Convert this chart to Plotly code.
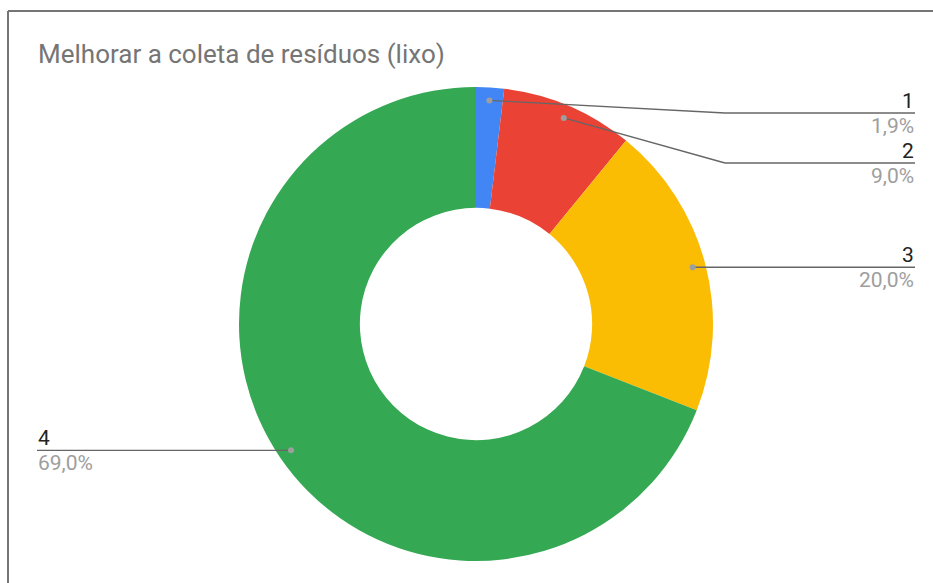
import math
import plotly.graph_objects as go

# Survey answers for "Melhorar a coleta de resíduos (lixo)"
categories = ["1", "2", "3", "4"]
shares = [1.9, 9.0, 20.0, 69.0]
colors = ["#4285F4", "#EA4335", "#FBBC04", "#34A853"]
title_text = "Melhorar a coleta de resíduos (lixo)"

W, H = 933, 583
CX, CY, R = 476, 324, 237          # donut centre / outer radius in pixels
HOLE = 0.49
DOT_R = 0.945 * R                  # where the leader lines start

fig = go.Figure()

fig.add_trace(go.Pie(
    labels=categories,
    values=shares,
    sort=False,
    direction="clockwise",
    rotation=0,
    hole=HOLE,
    marker=dict(colors=colors, line=dict(width=0)),
    textinfo="none",
    hoverinfo="label+value",
    showlegend=False,
    domain=dict(x=[(CX - R) / W, (CX + R) / W],
                y=[(H - (CY + R)) / H, (H - (CY - R)) / H]),
))

# Pixel-space overlay for leader lines and labels
fig.update_layout(
    xaxis=dict(range=[0, W], visible=False, fixedrange=True),
    yaxis=dict(range=[H, 0], visible=False, fixedrange=True),
)

total = sum(shares)
cum = 0.0
right_x, left_x = 915, 37
right_prev = None
shapes = []
annotations = []
LABEL_FONT = "Roboto, Arial"
LABEL_SIZE = 21
for name, v in zip(categories, shares):
    mid = (cum + v / 2) / total * 2 * math.pi
    cum += v
    dx, dy = math.sin(mid), -math.cos(mid)
    px, py = CX + DOT_R * dx, CY + DOT_R * dy
    pct = f"{v:.1f}".replace(".", ",") + "%"
    if dx >= 0:
        ly = max(py, 113.0)
        if right_prev is not None:
            ly = max(ly, right_prev + 50)
        right_prev = ly
        bend_x = 725 if abs(ly - py) > 1 else px
        shapes.append(dict(type="line", xref="x", yref="y", x0=px, y0=py, x1=bend_x, y1=ly,
                           line=dict(color="#666666", width=1.3)))
        shapes.append(dict(type="line", xref="x", yref="y", x0=bend_x, y1=ly, x1=right_x, y0=ly,
                           line=dict(color="#666666", width=1.3)))
        ex, anchor = right_x, "right"
    else:
        ly = py
        shapes.append(dict(type="line", xref="x", yref="y", x0=px, y0=py, x1=left_x, y1=ly,
                           line=dict(color="#666666", width=1.3)))
        ex, anchor = left_x, "left"
    shapes.append(dict(type="circle", xref="x", yref="y", x0=px - 3, x1=px + 3, y0=py - 3, y1=py + 3,
                       fillcolor="#9e9e9e", line=dict(width=0), layer="above"))
    annotations.append(dict(x=ex, y=ly + 1, xref="x", yref="y", text=name, showarrow=False,
                            xanchor=anchor, yanchor="bottom", borderpad=0,
                            font=dict(family=LABEL_FONT, size=LABEL_SIZE, color="#222222")))
    annotations.append(dict(x=ex, y=ly, xref="x", yref="y", text=pct, showarrow=False,
                            xanchor=anchor, yanchor="top", borderpad=0,
                            font=dict(family=LABEL_FONT, size=LABEL_SIZE, color="#9e9e9e")))

# Chart frame (top and left edges)
shapes.append(dict(type="line", xref="x", yref="y", x0=8, y0=11, x1=W, y1=11,
                   line=dict(color="#757575", width=2)))
shapes.append(dict(type="line", xref="x", yref="y", x0=8, y0=11, x1=8, y1=H,
                   line=dict(color="#757575", width=2)))

annotations.append(dict(x=36, y=54, xref="x", yref="y", text=title_text, showarrow=False,
                        xanchor="left", yanchor="middle",
                        font=dict(family=LABEL_FONT, size=26, color="#757575")))

fig.update_layout(
    width=W, height=H,
    margin=dict(l=0, r=0, t=0, b=0),
    paper_bgcolor="white", plot_bgcolor="rgba(0,0,0,0)",
    shapes=shapes, annotations=annotations,
)

fig.write_html("out.html")
